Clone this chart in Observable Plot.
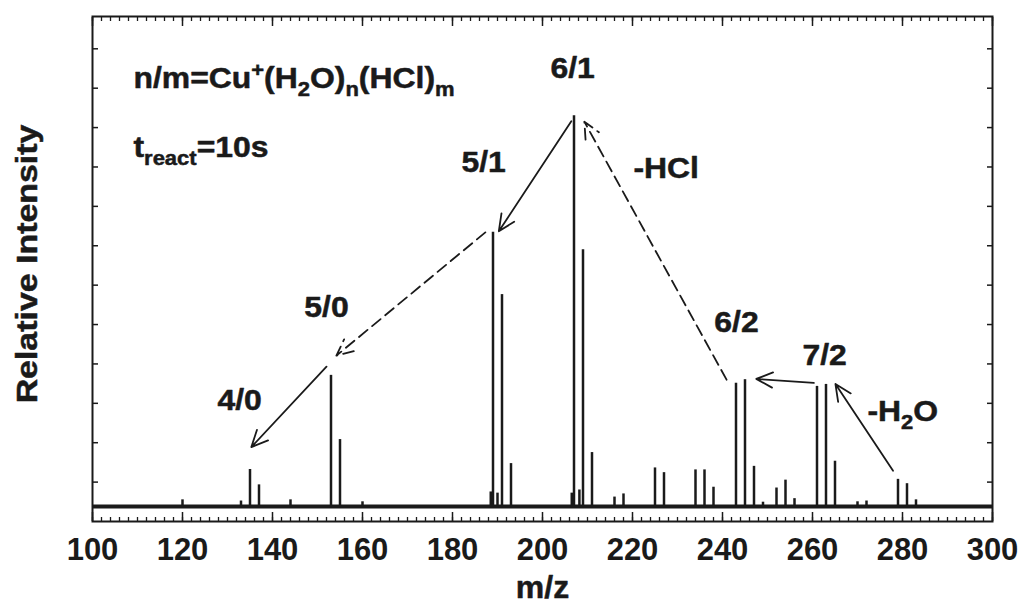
<!DOCTYPE html>
<html>
<head>
<meta charset="utf-8">
<script src="https://cdn.jsdelivr.net/npm/d3@7"></script>
<script src="https://cdn.jsdelivr.net/npm/@observablehq/plot@0.6"></script>
<style>
  html, body { margin: 0; padding: 0; background: #fff; }
</style>
</head>
<body>
<div id="chart"></div>
<script>
// ---- data ----
const peakMz = [120, 133, 135, 137, 144, 153, 155, 160, 188.5, 189, 190, 191, 193,
  206.5, 207, 208.2, 209, 211, 216, 218, 225, 227, 234, 236, 238, 243, 245, 247, 249,
  252, 254, 256, 261, 263, 265, 270, 272, 279, 281, 283];
const peakIntensity = [0.55, 0.52, 1.32, 0.93, 0.55, 3.71, 2.08, 0.5, 0.75, 7.34, 0.72, 5.76, 1.47,
  0.72, 10.3, 0.8, 6.9, 1.75, 0.62, 0.70, 1.36, 1.24, 1.31, 1.31, 0.87, 3.51, 3.6, 1.4, 0.49,
  0.85, 1.05, 0.58, 3.43, 3.48, 1.53, 0.5, 0.52, 1.07, 0.96, 0.55];
const baselineLevel = 0.38;

const xMajorTicks = d3.range(100, 301, 20);
const xMinorTicks = d3.range(100, 301, 2);
const yTicks = d3.range(1, 13);

// annotation labels (positions in data units: m/z, intensity)
const labels = [
  {text: "n/m=Cu^{+}(H_{2}O)_{n}(HCl)_{m}", x: 109.1, y: 11.0, anchor: "start"},
  {text: "t_{react}=10s", x: 109.1, y: 9.26, anchor: "start"},
  {text: "6/1", x: 206.7, y: 11.27, anchor: "middle"},
  {text: "-HCl", x: 220.2, y: 8.71, anchor: "start"},
  {text: "5/1", x: 186.9, y: 8.87, anchor: "middle"},
  {text: "5/0", x: 152.0, y: 5.20, anchor: "middle"},
  {text: "4/0", x: 132.7, y: 2.84, anchor: "middle"},
  {text: "6/2", x: 243.1, y: 4.80, anchor: "middle"},
  {text: "7/2", x: 262.7, y: 3.98, anchor: "middle"},
  {text: "-H_{2}O", x: 272.2, y: 2.54, anchor: "start"}
];

// reaction arrows (from -> to, data units)
const arrows = [
  {x1: 206.4, y1: 10.16, x2: 190.3, y2: 7.37, dashed: false},
  {x1: 187.3, y1: 7.34, x2: 154.2, y2: 4.21, dashed: true},
  {x1: 152.0, y1: 3.93, x2: 135.3, y2: 1.89, dashed: false},
  {x1: 240.9, y1: 3.60, x2: 209.3, y2: 10.15, dashed: true},
  {x1: 260.3, y1: 3.52, x2: 247.5, y2: 3.62, dashed: false},
  {x1: 277.9, y1: 1.29, x2: 265.1, y2: 3.49, dashed: false}
];

const peaks = peakMz.map((mz, i) => ({mz, v: peakIntensity[i]}));
const FONT = "'Liberation Sans', Arial, Helvetica, sans-serif";
const INK = "#1a1a1a";
const blank = () => "";

const plot = Plot.plot({
  width: 1021,
  height: 606,
  marginLeft: 92,
  marginRight: 29,
  marginTop: 16,
  marginBottom: 85,
  style: {fontFamily: FONT, fontWeight: "bold", background: "#fff", color: INK},
  x: {domain: [100, 300]},
  y: {domain: [0, 12.82]},
  marks: [
    // baseline (noise floor)
    Plot.ruleY([baselineLevel], {x1: 100, x2: 300, stroke: INK, strokeWidth: 4}),
    // peaks
    Plot.ruleX(peaks, {x: "mz", y1: baselineLevel, y2: "v", stroke: INK, strokeWidth: 2.5}),
    // arrows
    Plot.arrow(arrows.filter(d => !d.dashed), {x1: "x1", y1: "y1", x2: "x2", y2: "y2",
      stroke: INK, strokeWidth: 1.8, headLength: 15, headAngle: 50, inset: 0}),
    Plot.arrow(arrows.filter(d => d.dashed), {x1: "x1", y1: "y1", x2: "x2", y2: "y2",
      stroke: INK, strokeWidth: 1.8, headLength: 15, headAngle: 50, inset: 0,
      strokeDasharray: "11,6"}),
    // axes: bottom
    Plot.axisX(xMinorTicks, {anchor: "bottom", tickSize: -4, tickFormat: blank, label: null, strokeWidth: 1.3}),
    Plot.axisX(xMajorTicks, {anchor: "bottom", tickSize: -9, tickFormat: blank, label: null, strokeWidth: 1.5}),
    Plot.axisX(xMajorTicks, {anchor: "bottom", tickSize: 0, tickPadding: 16, fontSize: 31, label: null,
      stroke: INK, strokeWidth: 0.5}),
    // top
    Plot.axisX(xMinorTicks, {anchor: "top", tickSize: -4, tickFormat: blank, label: null, strokeWidth: 1.3}),
    Plot.axisX(xMajorTicks, {anchor: "top", tickSize: -9, tickFormat: blank, label: null, strokeWidth: 1.5}),
    // left / right
    Plot.axisY(yTicks, {anchor: "left", tickSize: -6, tickFormat: blank, label: null, strokeWidth: 1.5}),
    Plot.axisY(yTicks, {anchor: "right", tickSize: -6, tickFormat: blank, label: null, strokeWidth: 1.5}),
    Plot.frame({stroke: INK, strokeWidth: 2}),
    // axis titles
    Plot.text(["m/z"], {frameAnchor: "bottom", dy: 76, lineAnchor: "bottom", fontSize: 32,
      fill: INK, stroke: INK, strokeWidth: 0.5}),
    Plot.text(["Relative Intensity"], {frameAnchor: "left", dx: -65, dy: -5, rotate: -90,
      lineAnchor: "middle", textAnchor: "middle", fontSize: 30, fill: INK, stroke: INK, strokeWidth: 0.5}),
    // annotations
    Plot.text(labels, {x: "x", y: "y", text: "text", textAnchor: "start",
      filter: d => d.anchor === "start", lineAnchor: "bottom", fontSize: 29,
      fill: INK, stroke: INK, strokeWidth: 0.5}),
    Plot.text(labels, {x: "x", y: "y", text: "text", textAnchor: "middle",
      filter: d => d.anchor === "middle", lineAnchor: "bottom", fontSize: 29,
      fill: INK, stroke: INK, strokeWidth: 0.5})
  ]
});

const NS = "http://www.w3.org/2000/svg";
// horizontal stretch for the (wide) original lettering
plot.querySelectorAll('g[aria-label="text"] text').forEach(el => {
  const s = el.textContent;
  const k = s === "m/z" ? 1.0 : s === "Relative Intensity" ? 1.13 : 1.1;
  if (k !== 1) el.setAttribute("transform", (el.getAttribute("transform") || "") + ` scale(${k},1)`);
});
// convert _{..} / ^{..} markup into real sub/superscript tspans
plot.querySelectorAll("text").forEach(el => {
  const s = el.textContent;
  if (!/[_^]\{/.test(s)) return;
  el.textContent = "";
  let shift = 0;
  for (const m of s.matchAll(/([_^])\{([^}]*)\}|([^_^]+)/g)) {
    const t = document.createElementNS(NS, "tspan");
    let target;
    if (m[3] !== undefined) { t.textContent = m[3]; target = 0; }
    else {
      t.textContent = m[2];
      t.setAttribute("font-size", "20");
      target = m[1] === "_" ? 8 : -11;
    }
    t.setAttribute("dy", String(target - shift));
    shift = target;
    el.appendChild(t);
  }
});

document.getElementById("chart").appendChild(plot);
</script>
</body>
</html>
